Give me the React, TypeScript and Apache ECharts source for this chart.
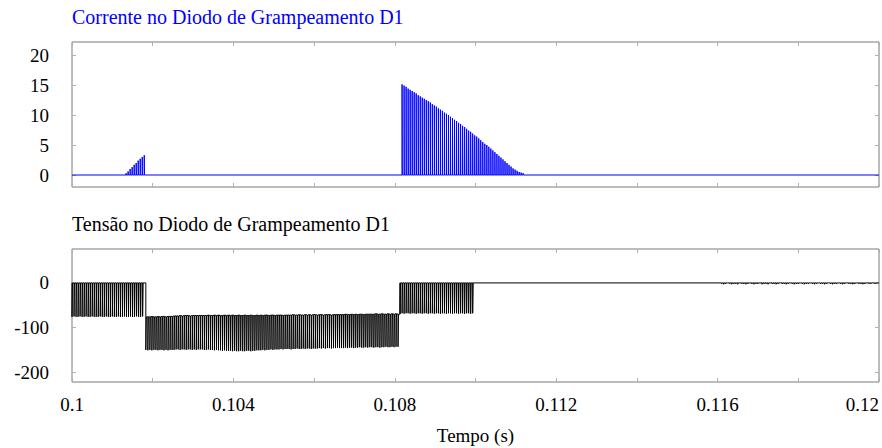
import React, { useEffect, useRef } from "react";
import * as echarts from "echarts";

// ---- axes ----
const timeStart = 0.1;
const timeEnd = 0.12;
const xTickValues = [0.1, 0.102, 0.104, 0.106, 0.108, 0.11, 0.112, 0.114, 0.116, 0.118, 0.12];
const xLabelValues = [0.1, 0.104, 0.108, 0.112, 0.116, 0.12];
const currentTicks = [0, 5, 10, 15, 20];
const voltageTicks = [-200, -100, 0];
const currentRange = [-2, 22.17];
const voltageRange = [-222, 76];

const currentTitle = "Corrente no Diodo de Grampeamento D1";
const voltageTitle = "Tensão no Diodo de Grampeamento D1";
const xName = "Tempo (s)";

// ---- switching ----
const switchPeriod = 0.00005; // 20 kHz
const currentPulseWidth = 0.000006;
const voltagePulseWidth = 0.000012;

// ---- current in D1 (A) : peak of each switching pulse ----
const currentBurst1Start = 0.10134;
const currentBurst1Peaks = [0.3, 0.6, 1.0, 1.3, 1.7, 2.0, 2.4, 2.7, 3.0, 3.3];
const currentBurst2Start = 0.10818;
const currentBurst2Peaks = [
  15.1, 14.9, 14.7, 14.4, 14.2, 14.0, 13.8, 13.6, 13.3, 13.1,
  12.9, 12.7, 12.5, 12.3, 12.1, 11.8, 11.6, 11.4, 11.1, 10.9,
  10.7, 10.4, 10.2, 10.0, 9.7, 9.5, 9.2, 9.0, 8.7, 8.5,
  8.2, 8.0, 7.7, 7.4, 7.2, 6.9, 6.6, 6.4, 6.1, 5.8,
  5.5, 5.2, 5.0, 4.7, 4.4, 4.1, 3.8, 3.5, 3.2, 2.9,
  2.6, 2.3, 2.0, 1.7, 1.4, 1.1, 0.9, 0.7, 0.5, 0.4, 0.3,
];

// ---- voltage on D1 (V) ----
const vRegion1Start = 0.1;
const vRegion1Highs = [0];
const vRegion1Lows = [
  -76, -75, -76, -76, -75, -76, -76, -75, -76, -76, -75, -76,
  -76, -76, -75, -76, -76, -75, -76, -76, -75, -76, -76, -75,
  -76, -76, -75, -76, -76, -75, -76, -76, -75, -76, -76, -75,
];
const vRegion2Start = 0.10183;
const vRegion2Highs = [
  -76, -76, -76, -75, -76, -76, -75, -76, -75, -75, -76, -75, -75, -75,
  -74, -74, -74, -73, -74, -73, -73, -73, -74, -73, -73, -73, -73, -73,
  -73, -73, -73, -72, -73, -73, -72, -73, -72, -73, -73, -72, -73, -72,
  -73, -72, -73, -73, -72, -73, -73, -72, -73, -73, -72, -73, -73, -72,
  -73, -72, -73, -72, -72, -73, -72, -72, -73, -72, -72, -72, -73, -72,
  -72, -72, -72, -71, -72, -72, -71, -72, -72, -71, -72, -71, -72, -71,
  -71, -72, -71, -71, -72, -71, -71, -71, -72, -71, -71, -71, -71, -71,
  -71, -70, -71, -71, -70, -71, -70, -71, -70, -70, -71, -70, -70, -70,
  -70, -70, -69, -70, -70, -69, -70, -70, -69, -70, -69, -70, -69, -70,
];
const vRegion2Lows = [
  -150, -151, -150, -151, -150, -150, -151, -150, -150, -151, -150, -151, -150, -150,
  -150, -149, -149, -150, -149, -149, -150, -149, -149, -150, -149, -150, -149, -149,
  -149, -150, -150, -149, -150, -150, -151, -150, -151, -151, -152, -151, -152, -152,
  -152, -153, -152, -153, -153, -152, -153, -153, -152, -152, -153, -152, -152, -151,
  -151, -151, -150, -151, -150, -150, -149, -150, -149, -149, -149, -148, -149, -148,
  -148, -148, -149, -148, -148, -147, -148, -148, -147, -148, -147, -147, -148, -147,
  -147, -147, -146, -147, -146, -147, -146, -146, -147, -146, -146, -145, -146, -146,
  -146, -145, -146, -145, -145, -146, -145, -145, -144, -145, -145, -144, -145, -144,
  -144, -145, -144, -144, -145, -144, -144, -143, -144, -144, -143, -144, -143, -143,
];
const vRegion3Start = 0.10813;
const vRegion3Highs = [0];
const vRegion3Lows = [
  -69, -68, -69, -68, -68, -69, -68, -68, -69, -68, -68, -69, -68,
  -68, -69, -68, -68, -69, -68, -68, -69, -68, -68, -69, -68,
  -68, -69, -68, -68, -69, -68, -68, -69, -68, -68, -69, -68,
];
const vRippleStart = 0.1161;
const vRippleHighs = [0];
const vRippleLows = [
  -2, -3, -2, -1, -2, -3, -2, -2, -3, -1, -2, -2, -3,
  -2, -1, -2, -3, -2, -2, -1, -3, -2, -2, -3, -1, -2,
  -2, -3, -2, -1, -2, -2, -3, -2, -1, -2, -3, -2, -2,
  -1, -2, -3, -2, -2, -1, -2, -3, -2, -1, -2, -2, -3,
  -2, -1, -2, -3, -2, -2, -1, -2, -3, -2, -1, -2, -2,
  -3, -2, -1, -2, -2, -3, -2, -1, -2, -2, -1, -2, -1,
];

type Pt = [number, number];

function pulses(start: number, width: number, highs: number[], lows: number[]): Pt[] {
  const n = Math.max(highs.length, lows.length);
  const out: Pt[] = [];
  for (let i = 0; i < n; i++) {
    const t = start + i * switchPeriod;
    const hi = highs[Math.min(i, highs.length - 1)];
    const lo = lows[Math.min(i, lows.length - 1)];
    out.push([t, hi], [t, lo], [t + width, lo], [t + width, hi]);
  }
  return out;
}

const currentData: Pt[] = [
  [timeStart, 0],
  ...pulses(currentBurst1Start, currentPulseWidth, [0], currentBurst1Peaks),
  ...pulses(currentBurst2Start, currentPulseWidth, [0], currentBurst2Peaks),
  [timeEnd, 0],
];

const voltageData: Pt[] = [
  ...pulses(vRegion1Start, voltagePulseWidth, vRegion1Highs, vRegion1Lows),
  [vRegion2Start, vRegion1Highs[0]],
  ...pulses(vRegion2Start, voltagePulseWidth, vRegion2Highs, vRegion2Lows),
  [vRegion3Start, vRegion2Highs[vRegion2Highs.length - 1]],
  ...pulses(vRegion3Start, voltagePulseWidth, vRegion3Highs, vRegion3Lows),
  ...pulses(vRippleStart, voltagePulseWidth, vRippleHighs, vRippleLows),
  [timeEnd, 0],
];

const FONT = "Liberation Serif";
const FS = 19;
const TITLE_FS = 20;
const tickColor = "#b0b0b0";

function fmtX(v: number) {
  return String(+v.toFixed(3));
}

function xAxisDef(gridIndex: number, position: "bottom" | "top", labels: boolean, name?: string) {
  return {
    type: "value",
    gridIndex,
    position,
    min: timeStart,
    max: timeEnd,
    axisLine: { show: false, onZero: false },
    splitLine: { show: false },
    axisTick: {
      show: true,
      inside: true,
      length: 4,
      customValues: xTickValues,
      lineStyle: { color: tickColor },
    },
    axisLabel: {
      show: labels,
      customValues: xLabelValues,
      formatter: fmtX,
      fontFamily: FONT,
      fontSize: FS,
      color: "#000",
      margin: 13,
      alignMaxLabel: "right",
    },
    name: name,
    nameLocation: "middle",
    nameGap: 44,
    nameTextStyle: { fontFamily: FONT, fontSize: FS, color: "#000" },
  };
}

function yAxisDef(gridIndex: number, position: "left" | "right", labels: boolean, range: number[], ticks: number[]) {
  return {
    type: "value",
    gridIndex,
    position,
    min: range[0],
    max: range[1],
    axisLine: { show: false, onZero: false },
    splitLine: { show: false },
    axisTick: {
      show: true,
      inside: true,
      length: 4,
      customValues: ticks,
      lineStyle: { color: tickColor },
    },
    axisLabel: {
      show: labels,
      customValues: ticks,
      formatter: (v: number) => String(Math.round(v)),
      fontFamily: FONT,
      fontSize: FS,
      color: "#000",
      margin: 23,
    },
  };
}

export default function App() {
  const ref = useRef<HTMLDivElement>(null);
  useEffect(() => {
    if (!ref.current) return;
    const chart = echarts.init(ref.current, undefined, { renderer: "svg" });
    chart.setOption({
      animation: false,
      backgroundColor: "#fff",
      textStyle: { fontFamily: FONT },
      title: [
        {
          text: currentTitle,
          left: 67,
          top: 2,
          textStyle: { fontFamily: FONT, fontSize: TITLE_FS, fontWeight: "normal", color: "#0000ff" },
        },
        {
          text: voltageTitle,
          left: 67,
          top: 209,
          textStyle: { fontFamily: FONT, fontSize: TITLE_FS, fontWeight: "normal", color: "#000" },
        },
      ],
      grid: [
        { left: 72, top: 42, width: 807, height: 145, show: true, borderColor: "#7a7a7a", borderWidth: 1, backgroundColor: "transparent" },
        { left: 72, top: 249, width: 807, height: 133, show: true, borderColor: "#7a7a7a", borderWidth: 1, backgroundColor: "transparent" },
      ],
      xAxis: [
        xAxisDef(0, "bottom", false),
        xAxisDef(0, "top", false),
        xAxisDef(1, "bottom", true, xName),
        xAxisDef(1, "top", false),
      ],
      yAxis: [
        yAxisDef(0, "left", true, currentRange, currentTicks),
        yAxisDef(0, "right", false, currentRange, currentTicks),
        yAxisDef(1, "left", true, voltageRange, voltageTicks),
        yAxisDef(1, "right", false, voltageRange, voltageTicks),
      ],
      series: [
        {
          type: "line",
          name: "Corrente",
          xAxisIndex: 0,
          yAxisIndex: 0,
          data: currentData,
          showSymbol: false,
          symbol: "none",
          silent: true,
          lineStyle: { color: "#0000ff", width: 1 },
        },
        {
          type: "line",
          name: "Tensão",
          xAxisIndex: 2,
          yAxisIndex: 2,
          data: voltageData,
          showSymbol: false,
          symbol: "none",
          silent: true,
          lineStyle: { color: "#000", width: 1 },
        },
      ],
    });
    return () => chart.dispose();
  }, []);
  return (
    <div
      ref={ref}
      style={{ position: "fixed", left: 0, top: 0, width: 882, height: 448, background: "#fff" }}
    />
  );
}
